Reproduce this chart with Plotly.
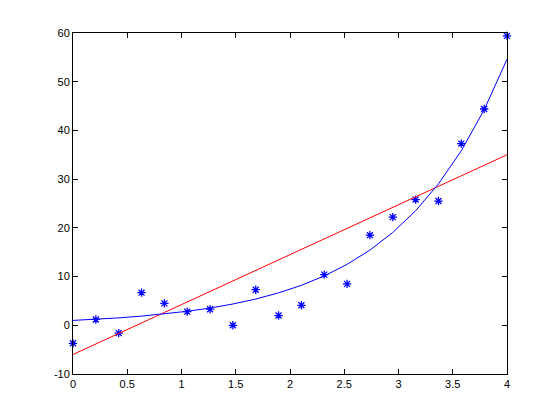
import plotly.graph_objects as go

x_data = [0.0, 0.2105, 0.4211, 0.6316, 0.8421, 1.0526, 1.2632, 1.4737, 1.6842, 1.8947,
          2.1053, 2.3158, 2.5263, 2.7368, 2.9474, 3.1579, 3.3684, 3.5789, 3.7895, 4.0]
y_data = [-3.7, 1.2, -1.6, 6.7, 4.5, 2.8, 3.3, 0.0, 7.3, 2.0,
          4.1, 10.4, 8.5, 18.5, 22.2, 25.8, 25.5, 37.3, 44.4, 59.4]
curve_y = [1.0, 1.23, 1.52, 1.88, 2.32, 2.87, 3.54, 4.37, 5.39, 6.65,
           8.21, 10.13, 12.51, 15.44, 19.06, 23.52, 29.03, 35.83, 44.23, 54.6]
line_x = [0.0, 4.0]
line_y = [-6.0, 35.0]

x_ticks = [0, 0.5, 1, 1.5, 2, 2.5, 3, 3.5, 4]
x_tick_text = ["0", "0.5", "1", "1.5", "2", "2.5", "3", "3.5", "4"]
y_ticks = [-10, 0, 10, 20, 30, 40, 50, 60]
y_tick_text = ["-10", "0", "10", "20", "30", "40", "50", "60"]

fig = go.Figure()
fig.add_trace(go.Scatter(x=x_data, y=y_data, mode="markers",
                         marker=dict(symbol="asterisk-open", size=7, color="#0000ff",
                                     line=dict(color="#0000ff", width=1.3)),
                         cliponaxis=False))
fig.add_trace(go.Scatter(x=line_x, y=line_y, mode="lines",
                         line=dict(color="#ff0000", width=1)))
fig.add_trace(go.Scatter(x=x_data, y=curve_y, mode="lines",
                         line=dict(color="#0000ff", width=1)))

axis_common = dict(showgrid=False, zeroline=False, showline=True, linecolor="black",
                   linewidth=1, mirror="ticks", ticks="inside", ticklen=5,
                   tickcolor="black", tickwidth=1,
                   tickfont=dict(family="Liberation Sans, Arial, sans-serif", size=11, color="black"))

fig.update_layout(
    width=560, height=420,
    margin=dict(l=65, r=61, t=25, b=54),
    paper_bgcolor="white", plot_bgcolor="white",
    showlegend=False,
    xaxis=dict(range=[0, 4], tickvals=x_ticks, ticktext=x_tick_text, **axis_common),
    yaxis=dict(range=[-10, 60], tickvals=y_ticks, ticktext=y_tick_text, **axis_common),
)

fig.write_html("out.html")
